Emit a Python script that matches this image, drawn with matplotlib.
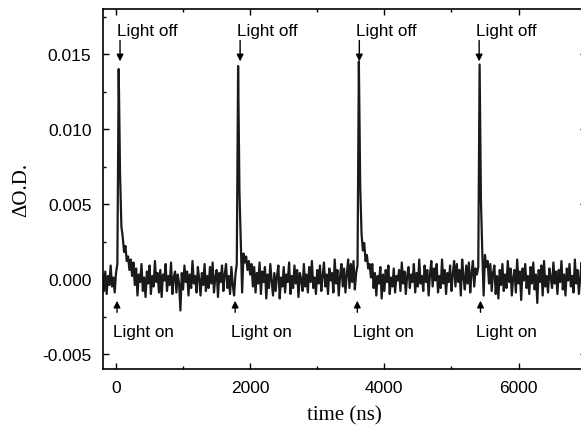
import numpy as np
import matplotlib
matplotlib.use('Agg')
import matplotlib.pyplot as plt
from matplotlib.ticker import MultipleLocator, FormatStrFormatter

plt.rcParams['font.family'] = ['Liberation Sans', 'DejaVu Sans']
plt.rcParams['axes.unicode_minus'] = False

# transient trace, sampled every 20 ns from -200 ns to 7000 ns
t_start = -200
t_step = 20
# delta O.D. in units of 1e-4
od_1e4 = [
    3, -8, 5, -10, 2, -4, 9, -5, 1, -9, 4, 10, 140, 70, 35, 28, 18, 22, 12, 15,
    6, 13, 2, 11, -4, 7, -11, 3, -2, 10, -8, 1, -12, 5, -3, 9, -10, 2, -5, 12,
    -2, 4, -9, 6, -12, 3, -1, 10, -8, 2, -4, 11, -10, 1, 5, -9, 3, -3, -21, 4,
    -7, 9, -2, 5, -11, 3, -6, 12, -3, 2, -9, 8, 0, -11, 4, -4, 10, -8, 2, -6,
    8, -3, 11, -9, 1, 6, -12, 4, -2, 9, -8, 3, 10, -6, 2, -10, 8, -4, -11, 3,
    10, 142, 58, 24, -9, 17, 11, 15, 6, 12, 3, 10, -5, 8, -9, 4, -3, 11, -10, 5,
    -2, 8, -13, 3, -6, 10, -1, -11, 4, -8, 2, 9, -13, 1, -5, 8, -9, 3, -2, 11,
    -10, 2, -6, 9, -3, 6, -12, 4, 0, -8, 10, -5, 3, -9, 8, -2, 12, -6, 1, -10,
    6, -3, 9, -8, 2, 11, -5, 3, -10, 7, -1, 4, -9, 13, -3, 6, -11, 2, 10, -5,
    7, -9, 3, 13, -6, 10, -2, 12, -7, 4, 9, 145, 62, 30, 19, 24, 12, 16, 7, 10,
    1, 10, -6, 4, -11, 2, -3, 8, -13, 3, -8, 6, -2, 9, -10, 1, -5, 7, -9, 2,
    -1, 6, -8, 11, -3, 5, -10, 2, 8, -6, 3, -2, 10, -9, 4, -5, 13, -3, 2, -8,
    9, -2, 6, -11, 3, 12, -5, 7, -1, 10, -9, 2, -6, 13, -3, 6, -10, 4, -2, 9,
    -8, 3, 12, -5, 10, -2, 6, -11, 13, 1, -7, 9, -3, 11, -9, 4, 12, -5, 7, 3,
    8, 143, 52, 18, -11, 16, 8, 12, -3, 10, -8, 4, 9, -10, 2, -13, 6, -4, 10, -8,
    3, -6, 12, -2, 7, -11, 1, 6, -9, 13, -3, 5, -14, 7, -1, 10, -6, 2, -10, 8,
    -3, 11, -7, 3, -16, 6, -2, 9, -11, 12, -5, 2, -9, 7, 1, -6, 11, -3, 5, -10,
    6, -2, 12, -7, 3, -11, 7, -1, 10, -5, 2, -9, 13, -3, 6, -10, 1, 11, -6, 3,
    -2,
]

# where the annotations sit (ns)
off_times = [60, 1850, 3627, 5413]
on_times = [15, 1776, 3597, 5433]

time = t_start + t_step * np.arange(len(od_1e4))
od = np.array(od_1e4) * 1e-4

fig = plt.figure(figsize=(5.81, 4.27), dpi=100)
ax = fig.add_axes([102.6 / 581, 57 / 427, 483 / 581, 360 / 427])
ax.plot(time, od, color='#1a1a1a', lw=1.6)

ax.set_xlim(-200, 7000)
ax.set_ylim(-0.006, 0.018)
ax.xaxis.set_major_locator(MultipleLocator(2000))
ax.xaxis.set_minor_locator(MultipleLocator(1000))
ax.yaxis.set_major_locator(MultipleLocator(0.005))
ax.yaxis.set_minor_locator(MultipleLocator(0.0025))
ax.yaxis.set_major_formatter(FormatStrFormatter('%.3f'))
ax.tick_params(which='both', direction='in', top=True, right=True, labelsize=12.5, pad=8)
ax.tick_params(which='major', length=4.5, width=1)
ax.tick_params(which='minor', length=2.5, width=1)
for s in ax.spines.values():
    s.set_linewidth(1.2)

ax.set_xlabel('time (ns)', family=['Liberation Serif'], fontsize=15, labelpad=7)
ax.set_ylabel('\u0394O.D.', family=['Liberation Serif'], fontsize=15, labelpad=8)

for t in off_times:
    ax.annotate('', xy=(t, 0.01451), xytext=(t, 0.01590),
                arrowprops=dict(arrowstyle='-|>', color='k', lw=1, mutation_scale=10, shrinkA=0, shrinkB=0))
    ax.text(t - 50, 0.01655, 'Light off', fontsize=12.3, ha='left', va='center')
for t in on_times:
    ax.annotate('', xy=(t, -0.00145), xytext=(t, -0.00222),
                arrowprops=dict(arrowstyle='-|>', color='k', lw=1, mutation_scale=10, shrinkA=0, shrinkB=0))
    ax.text(t - 60, -0.00351, 'Light on', fontsize=12.3, ha='left', va='center')

fig.savefig('out.png', dpi=100)
